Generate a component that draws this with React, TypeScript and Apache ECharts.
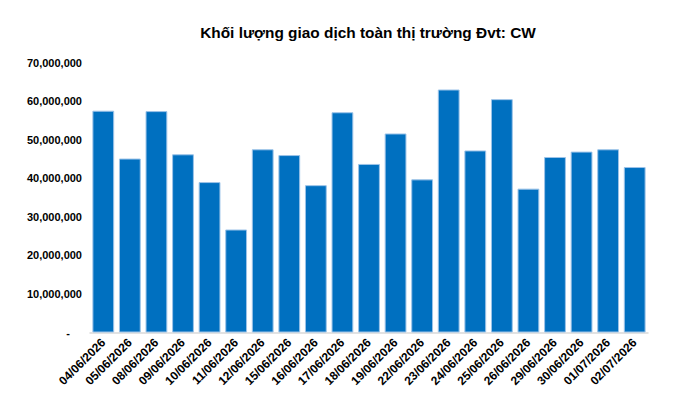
import React, { useEffect, useRef } from "react";
import * as echarts from "echarts";

const categories = [
  "04/06/2026", "05/06/2026", "08/06/2026", "09/06/2026", "10/06/2026",
  "11/06/2026", "12/06/2026", "15/06/2026", "16/06/2026", "17/06/2026",
  "18/06/2026", "19/06/2026", "22/06/2026", "23/06/2026", "24/06/2026",
  "25/06/2026", "26/06/2026", "29/06/2026", "30/06/2026", "01/07/2026",
  "02/07/2026",
];

const volumes = [
  57500000, 45100000, 57400000, 46200000, 39000000,
  26700000, 47500000, 46000000, 38200000, 57100000,
  43700000, 51600000, 39700000, 63000000, 47200000,
  60500000, 37300000, 45500000, 46900000, 47500000,
  42900000,
];

const titleText = "Khối lượng giao dịch toàn thị trường Đvt: CW";

const FONT = "'Liberation Sans', Arial, sans-serif";

function fmt(v: number): string {
  if (v === 0) return "{z|-}";
  return v.toLocaleString("en-US");
}

export default function App() {
  const ref = useRef<HTMLDivElement>(null);
  useEffect(() => {
    document.body.style.margin = "0";
    if (!ref.current) return;
    const chart = echarts.init(ref.current, undefined, { renderer: "svg" });
    chart.setOption({
      animation: false,
      backgroundColor: "#ffffff",
      title: {
        text: titleText,
        left: 363,
        textAlign: "center",
        top: 20,
        textStyle: { fontFamily: FONT, fontSize: 15.4, fontWeight: "bold", color: "#000" },
      },
      grid: { left: 90, right: 39, top: 62.5, bottom: 81.5, containLabel: false },
      xAxis: {
        type: "category",
        data: categories,
        axisLine: { lineStyle: { color: "#d9d9d9", width: 1.5 } },
        axisTick: { show: false },
        axisLabel: {
          rotate: 45,
          interval: 0,
          margin: 8,
          fontFamily: FONT,
          fontSize: 12,
          fontWeight: "bold",
          color: "#000",
        },
      },
      yAxis: {
        type: "value",
        min: 0,
        max: 70000000,
        interval: 10000000,
        splitLine: { show: false },
        axisLine: { show: false },
        axisTick: { show: false },
        axisLabel: {
          margin: 8,
          fontFamily: FONT,
          fontSize: 11,
          fontWeight: "bold",
          color: "#000",
          formatter: fmt,
          rich: { z: { padding: [0, 12, 0, 0], fontFamily: FONT, fontSize: 11, fontWeight: "bold", color: "#000" } },
        },
      },
      series: [
        {
          type: "bar",
          data: volumes,
          barCategoryGap: "18%",
          itemStyle: { color: "#0070C0", borderColor: "#9cc3e8", borderWidth: 1 },
        },
      ],
    });
    return () => chart.dispose();
  }, []);
  return <div ref={ref} style={{ width: 687, height: 414 }} />;
}
